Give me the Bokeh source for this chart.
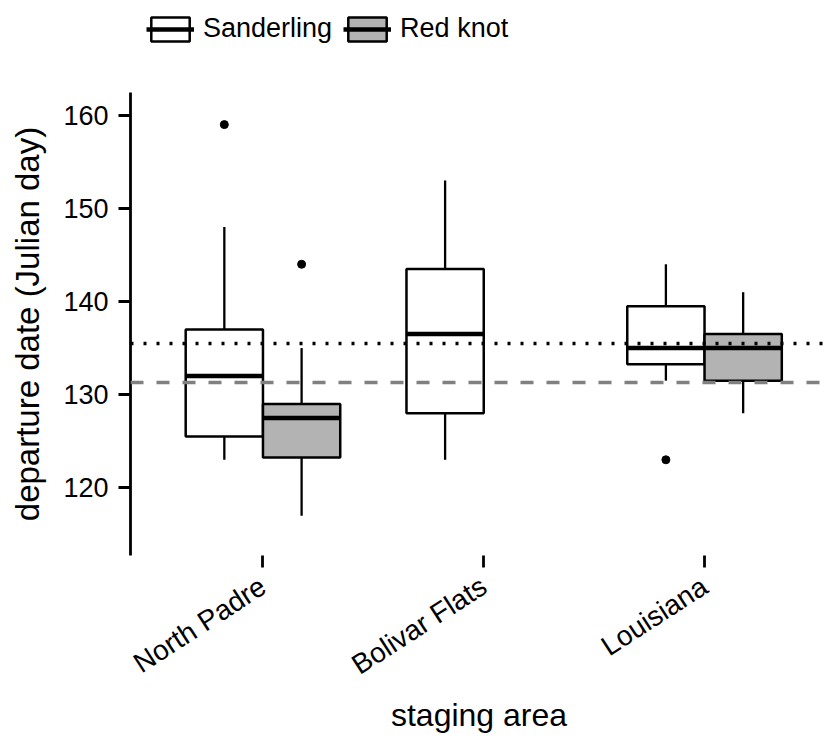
import math
from bokeh.plotting import figure
from bokeh.layouts import column
from bokeh.models import Range1d, FixedTicker, Span, Legend, LegendItem, ColumnDataSource
from bokeh.embed import file_html
from bokeh.resources import INLINE

# ---------------- data ----------------
areas = ["North Padre", "Bolivar Flats", "Louisiana"]

sand_areas = ["North Padre", "Bolivar Flats", "Louisiana"]
sand_low = [123, 123, 131.5]
sand_q1 = [125.5, 128, 133.25]
sand_med = [132, 136.5, 135]
sand_q3 = [137, 143.5, 139.5]
sand_high = [148, 153, 144]
sand_out_areas = ["North Padre", "Louisiana"]
sand_out_vals = [159, 123]

knot_areas = ["North Padre", "Louisiana"]
knot_low = [117, 128]
knot_q1 = [123.25, 131.5]
knot_med = [127.5, 135]
knot_q3 = [129, 136.5]
knot_high = [135, 141]
knot_out_areas = ["North Padre"]
knot_out_vals = [144]

dotted_ref = 135.5
dashed_ref = 131.3

y_ticks = [120, 130, 140, 150, 160]
species = ["Sanderling", "Red knot"]
species_fill = ["white", "#B3B3B3"]

# ---------------- layout constants ----------------
BOX_W = 0.35
FONT = "Liberation Sans"
BOX_LW = 2.5
WHISK_LW = 2.3
MED_LW = 4.5
LEGEND_H = 92


def positions(names, offset):
    return [areas.index(n) + 1 + offset for n in names]


p = figure(width=827, height=738 - LEGEND_H,
           x_range=Range1d(0.4, 3.557), y_range=Range1d(112.72, 162.45),
           output_backend="svg", toolbar_location=None,
           min_border_left=130, min_border_right=0,
           min_border_top=0, min_border_bottom=183)
p.outline_line_color = None
p.xgrid.visible = False
p.ygrid.visible = False
p.background_fill_color = "white"
p.border_fill_color = "white"


def draw_group(names, low, q1, med, q3, high, out_names, out_vals, offset, fill):
    xs = positions(names, offset)
    src = ColumnDataSource(dict(
        x=xs,
        left=[x - BOX_W / 2 for x in xs],
        right=[x + BOX_W / 2 for x in xs],
        low=low, q1=q1, med=med, q3=q3, high=high))
    p.segment(x0="x", y0="q3", x1="x", y1="high", source=src,
              line_color="black", line_width=WHISK_LW)
    p.segment(x0="x", y0="low", x1="x", y1="q1", source=src,
              line_color="black", line_width=WHISK_LW)
    p.quad(left="left", right="right", bottom="q1", top="q3", source=src,
           fill_color=fill, line_color="black", line_width=BOX_LW)
    p.segment(x0="left", y0="med", x1="right", y1="med", source=src,
              line_color="black", line_width=MED_LW)
    p.scatter(x=positions(out_names, offset), y=out_vals, size=8,
              fill_color="black", line_color="black")


draw_group(sand_areas, sand_low, sand_q1, sand_med, sand_q3, sand_high,
           sand_out_areas, sand_out_vals, -BOX_W / 2, species_fill[0])
draw_group(knot_areas, knot_low, knot_q1, knot_med, knot_q3, knot_high,
           knot_out_areas, knot_out_vals, BOX_W / 2, species_fill[1])

p.add_layout(Span(location=dotted_ref, dimension="width", line_color="black",
                  line_width=3.5, line_dash="3 10"))
p.add_layout(Span(location=dashed_ref, dimension="width", line_color="#808080",
                  line_width=3.5, line_dash="13 13"))

# ---------------- axes ----------------
xa = p.xaxis[0]
xa.ticker = FixedTicker(ticks=[i + 1 for i in range(len(areas))])
xa.major_label_overrides = {i + 1: a for i, a in enumerate(areas)}
xa.major_label_orientation = math.radians(33)
xa.axis_line_color = None
xa.major_tick_in = 0
xa.major_tick_out = 12
xa.major_tick_line_width = 2.8
xa.minor_tick_line_color = None
xa.major_label_text_font = FONT
xa.major_label_text_font_size = "28px"
xa.major_label_text_color = "black"
xa.major_label_standoff = 16
xa.axis_label = "staging area"
xa.axis_label_text_font = FONT
xa.axis_label_text_font_size = "32px"
xa.axis_label_text_font_style = "normal"
xa.axis_label_text_color = "black"
xa.axis_label_standoff = 1

ya = p.yaxis[0]
ya.ticker = FixedTicker(ticks=y_ticks)
ya.axis_line_width = 2.8
ya.axis_line_color = "black"
ya.major_tick_in = 0
ya.major_tick_out = 12
ya.major_tick_line_width = 2.8
ya.minor_tick_line_color = None
ya.major_label_text_font = FONT
ya.major_label_text_font_size = "27px"
ya.major_label_text_color = "black"
ya.major_label_standoff = 10
ya.axis_label = "departure date (Julian day)"
ya.axis_label_text_font = FONT
ya.axis_label_text_font_size = "33px"
ya.axis_label_text_font_style = "normal"
ya.axis_label_text_color = "black"
ya.axis_label_standoff = 14

# ---------------- legend (own strip above the plot) ----------------
lf = figure(width=827, height=LEGEND_H, x_range=Range1d(0, 1), y_range=Range1d(0, 1),
            output_backend="svg", toolbar_location=None,
            x_axis_type=None, y_axis_type=None,
            min_border_left=0, min_border_right=0, min_border_top=0, min_border_bottom=0)
lf.outline_line_color = None
lf.xgrid.visible = False
lf.ygrid.visible = False

items = []
for name, fill in zip(species, species_fill):
    nan = float("nan")
    kb = lf.quad(left=[nan], right=[nan], bottom=[nan], top=[nan],
                 fill_color=fill, line_color="black", line_width=BOX_LW)
    km = lf.segment(x0=[nan], y0=[nan], x1=[nan], y1=[nan],
                    line_color="black", line_width=MED_LW)
    items.append(LegendItem(label=name, renderers=[kb, km]))

legend = Legend(items=items, orientation="horizontal", location=(16, 48),
                glyph_width=48, glyph_height=30, label_height=30,
                label_standoff=9, spacing=11, padding=0, margin=0,
                label_text_font=FONT, label_text_font_size="27px",
                label_text_color="black",
                border_line_alpha=0, background_fill_alpha=0)
lf.add_layout(legend, "center")

layout = column(lf, p, spacing=0)
open("out.html", "w").write(file_html(layout, INLINE))
